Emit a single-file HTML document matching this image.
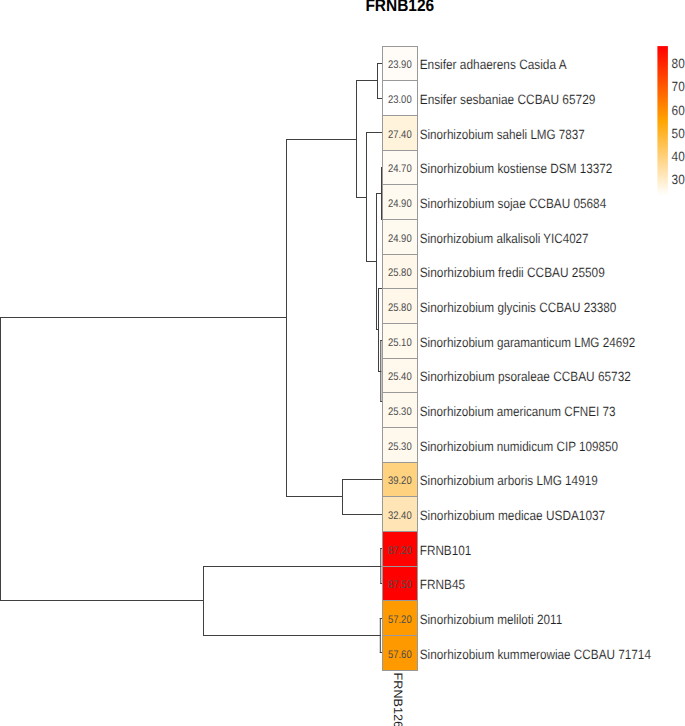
<!DOCTYPE html>
<html><head><meta charset="utf-8"><style>
html,body{margin:0;padding:0;background:#fff;width:685px;height:726px;overflow:hidden}
svg{display:block}
text{font-family:"Liberation Sans",sans-serif;text-rendering:geometricPrecision}
</style></head><body>
<svg width="685" height="726" viewBox="0 0 685 726">
<defs><linearGradient id="g" x1="0" y1="0" x2="0" y2="1"><stop offset="0.00" stop-color="#FF0000"/><stop offset="0.05" stop-color="#FF1000"/><stop offset="0.10" stop-color="#FF2100"/><stop offset="0.15" stop-color="#FF3200"/><stop offset="0.20" stop-color="#FF4200"/><stop offset="0.25" stop-color="#FF5200"/><stop offset="0.30" stop-color="#FF6300"/><stop offset="0.35" stop-color="#FF7300"/><stop offset="0.40" stop-color="#FF8400"/><stop offset="0.45" stop-color="#FF9400"/><stop offset="0.50" stop-color="#FFA500"/><stop offset="0.55" stop-color="#FFAE19"/><stop offset="0.60" stop-color="#FFB733"/><stop offset="0.65" stop-color="#FFC04C"/><stop offset="0.70" stop-color="#FFC966"/><stop offset="0.75" stop-color="#FFD280"/><stop offset="0.80" stop-color="#FFDB99"/><stop offset="0.85" stop-color="#FFE4B2"/><stop offset="0.90" stop-color="#FFEDCC"/><stop offset="0.95" stop-color="#FFF6E6"/><stop offset="1.00" stop-color="#FFFFFF"/></linearGradient></defs>
<text transform="translate(399.8,11.4) scale(0.91,1)" text-anchor="middle" font-weight="bold" font-size="17.0" fill="#000">FRNB126</text>
<g stroke="#404040" stroke-width="1" stroke-linecap="square" fill="none"><line x1="382.50" y1="63.50" x2="377.50" y2="63.50"/><line x1="377.50" y1="63.50" x2="377.50" y2="98.50"/><line x1="377.50" y1="98.50" x2="382.50" y2="98.50"/><line x1="382.50" y1="202.50" x2="383.00" y2="202.50"/><line x1="383.00" y1="202.50" x2="383.00" y2="236.50"/><line x1="383.00" y1="236.50" x2="382.50" y2="236.50"/><line x1="382.50" y1="167.50" x2="381.50" y2="167.50"/><line x1="381.50" y1="167.50" x2="381.50" y2="219.50"/><line x1="381.50" y1="219.50" x2="383.00" y2="219.50"/><line x1="382.50" y1="271.50" x2="383.00" y2="271.50"/><line x1="383.00" y1="271.50" x2="383.00" y2="306.50"/><line x1="383.00" y1="306.50" x2="382.50" y2="306.50"/><line x1="382.50" y1="410.50" x2="383.00" y2="410.50"/><line x1="383.00" y1="410.50" x2="383.00" y2="444.50"/><line x1="383.00" y1="444.50" x2="382.50" y2="444.50"/><line x1="382.50" y1="375.50" x2="383.00" y2="375.50"/><line x1="383.00" y1="375.50" x2="383.00" y2="427.50"/><line x1="383.00" y1="427.50" x2="383.00" y2="427.50"/><line x1="382.50" y1="340.50" x2="380.80" y2="340.50"/><line x1="380.80" y1="340.50" x2="380.80" y2="401.50"/><line x1="380.80" y1="401.50" x2="383.00" y2="401.50"/><line x1="383.00" y1="288.50" x2="378.50" y2="288.50"/><line x1="378.50" y1="288.50" x2="378.50" y2="371.50"/><line x1="378.50" y1="371.50" x2="380.80" y2="371.50"/><line x1="381.50" y1="193.50" x2="376.50" y2="193.50"/><line x1="376.50" y1="193.50" x2="376.50" y2="329.50"/><line x1="376.50" y1="329.50" x2="378.50" y2="329.50"/><line x1="382.50" y1="132.50" x2="366.50" y2="132.50"/><line x1="366.50" y1="132.50" x2="366.50" y2="261.50"/><line x1="366.50" y1="261.50" x2="376.50" y2="261.50"/><line x1="377.50" y1="80.50" x2="356.50" y2="80.50"/><line x1="356.50" y1="80.50" x2="356.50" y2="197.50"/><line x1="356.50" y1="197.50" x2="366.50" y2="197.50"/><line x1="382.50" y1="479.50" x2="342.50" y2="479.50"/><line x1="342.50" y1="479.50" x2="342.50" y2="514.50"/><line x1="342.50" y1="514.50" x2="382.50" y2="514.50"/><line x1="356.50" y1="139.50" x2="286.50" y2="139.50"/><line x1="286.50" y1="139.50" x2="286.50" y2="496.50"/><line x1="286.50" y1="496.50" x2="342.50" y2="496.50"/><line x1="382.50" y1="548.50" x2="380.80" y2="548.50"/><line x1="380.80" y1="548.50" x2="380.80" y2="583.50"/><line x1="380.80" y1="583.50" x2="382.50" y2="583.50"/><line x1="382.50" y1="618.50" x2="380.30" y2="618.50"/><line x1="380.30" y1="618.50" x2="380.30" y2="652.50"/><line x1="380.30" y1="652.50" x2="382.50" y2="652.50"/><line x1="380.80" y1="566.50" x2="203.50" y2="566.50"/><line x1="203.50" y1="566.50" x2="203.50" y2="635.50"/><line x1="203.50" y1="635.50" x2="380.30" y2="635.50"/><line x1="286.50" y1="317.50" x2="0.50" y2="317.50"/><line x1="0.50" y1="317.50" x2="0.50" y2="600.50"/><line x1="0.50" y1="600.50" x2="203.50" y2="600.50"/></g>
<g><rect x="382.5" y="46.5" width="35.0" height="34.0" fill="#FFFCF8"/><rect x="382.5" y="80.5" width="35.0" height="35.0" fill="#FFFFFF"/><rect x="382.5" y="115.5" width="35.0" height="35.0" fill="#FFF3DC"/><rect x="382.5" y="150.5" width="35.0" height="34.0" fill="#FFFAF2"/><rect x="382.5" y="184.5" width="35.0" height="35.0" fill="#FFFAF0"/><rect x="382.5" y="219.5" width="35.0" height="35.0" fill="#FFFAF0"/><rect x="382.5" y="254.5" width="35.0" height="34.0" fill="#FFF7E9"/><rect x="382.5" y="288.5" width="35.0" height="35.0" fill="#FFF7E9"/><rect x="382.5" y="323.5" width="35.0" height="35.0" fill="#FFF9EE"/><rect x="382.5" y="358.5" width="35.0" height="34.0" fill="#FFF8EC"/><rect x="382.5" y="392.5" width="35.0" height="35.0" fill="#FFF9ED"/><rect x="382.5" y="427.5" width="35.0" height="35.0" fill="#FFF9ED"/><rect x="382.5" y="462.5" width="35.0" height="34.0" fill="#FFD27F"/><rect x="382.5" y="496.5" width="35.0" height="35.0" fill="#FFE5B5"/><rect x="382.5" y="531.5" width="35.0" height="35.0" fill="#FF0200"/><rect x="382.5" y="566.5" width="35.0" height="34.0" fill="#FF0000"/><rect x="382.5" y="600.5" width="35.0" height="35.0" fill="#FF9B00"/><rect x="382.5" y="635.5" width="35.0" height="35.0" fill="#FF9900"/></g>
<g stroke="#999999" stroke-width="1"><line x1="382.0" y1="46.5" x2="418.0" y2="46.5"/><line x1="382.0" y1="80.5" x2="418.0" y2="80.5"/><line x1="382.0" y1="115.5" x2="418.0" y2="115.5"/><line x1="382.0" y1="150.5" x2="418.0" y2="150.5"/><line x1="382.0" y1="184.5" x2="418.0" y2="184.5"/><line x1="382.0" y1="219.5" x2="418.0" y2="219.5"/><line x1="382.0" y1="254.5" x2="418.0" y2="254.5"/><line x1="382.0" y1="288.5" x2="418.0" y2="288.5"/><line x1="382.0" y1="323.5" x2="418.0" y2="323.5"/><line x1="382.0" y1="358.5" x2="418.0" y2="358.5"/><line x1="382.0" y1="392.5" x2="418.0" y2="392.5"/><line x1="382.0" y1="427.5" x2="418.0" y2="427.5"/><line x1="382.0" y1="462.5" x2="418.0" y2="462.5"/><line x1="382.0" y1="496.5" x2="418.0" y2="496.5"/><line x1="382.0" y1="531.5" x2="418.0" y2="531.5"/><line x1="382.0" y1="566.5" x2="418.0" y2="566.5"/><line x1="382.0" y1="600.5" x2="418.0" y2="600.5"/><line x1="382.0" y1="635.5" x2="418.0" y2="635.5"/><line x1="382.0" y1="670.5" x2="418.0" y2="670.5"/><line x1="382.5" y1="46.5" x2="382.5" y2="670.5"/><line x1="417.5" y1="46.5" x2="417.5" y2="670.5"/></g>
<g font-size="11" fill="#4D4D4D" text-anchor="middle"><text transform="translate(399.8,68.10) scale(0.8604,1)">23.90</text><text transform="translate(399.8,102.60) scale(0.8604,1)">23.00</text><text transform="translate(399.8,137.60) scale(0.8604,1)">27.40</text><text transform="translate(399.8,172.10) scale(0.8604,1)">24.70</text><text transform="translate(399.8,206.60) scale(0.8604,1)">24.90</text><text transform="translate(399.8,241.60) scale(0.8604,1)">24.90</text><text transform="translate(399.8,276.10) scale(0.8604,1)">25.80</text><text transform="translate(399.8,310.60) scale(0.8604,1)">25.80</text><text transform="translate(399.8,345.60) scale(0.8604,1)">25.10</text><text transform="translate(399.8,380.10) scale(0.8604,1)">25.40</text><text transform="translate(399.8,414.60) scale(0.8604,1)">25.30</text><text transform="translate(399.8,449.60) scale(0.8604,1)">25.30</text><text transform="translate(399.8,484.10) scale(0.8604,1)">39.20</text><text transform="translate(399.8,518.60) scale(0.8604,1)">32.40</text><text transform="translate(399.8,553.60) scale(0.8604,1)">87.20</text><text transform="translate(399.8,588.10) scale(0.8604,1)">87.50</text><text transform="translate(399.8,622.60) scale(0.8604,1)">57.20</text><text transform="translate(399.8,657.60) scale(0.8604,1)">57.60</text></g>
<g font-size="13.5" fill="#222" stroke="#fff" stroke-width="0.12"><text transform="translate(419.7,69.10) scale(0.8775,1)">Ensifer adhaerens Casida A</text><text transform="translate(419.7,103.60) scale(0.8803,1)">Ensifer sesbaniae CCBAU 65729</text><text transform="translate(419.7,138.60) scale(0.8626,1)">Sinorhizobium saheli LMG 7837</text><text transform="translate(419.7,173.10) scale(0.8704,1)">Sinorhizobium kostiense DSM 13372</text><text transform="translate(419.7,207.60) scale(0.8721,1)">Sinorhizobium sojae CCBAU 05684</text><text transform="translate(419.7,242.60) scale(0.8598,1)">Sinorhizobium alkalisoli YIC4027</text><text transform="translate(419.7,277.10) scale(0.8777,1)">Sinorhizobium fredii CCBAU 25509</text><text transform="translate(419.7,311.60) scale(0.8705,1)">Sinorhizobium glycinis CCBAU 23380</text><text transform="translate(419.7,346.60) scale(0.8649,1)">Sinorhizobium garamanticum LMG 24692</text><text transform="translate(419.7,381.10) scale(0.8763,1)">Sinorhizobium psoraleae CCBAU 65732</text><text transform="translate(419.7,415.60) scale(0.8638,1)">Sinorhizobium americanum CFNEI 73</text><text transform="translate(419.7,450.60) scale(0.864,1)">Sinorhizobium numidicum CIP 109850</text><text transform="translate(419.7,485.10) scale(0.8689,1)">Sinorhizobium arboris LMG 14919</text><text transform="translate(419.7,519.60) scale(0.8763,1)">Sinorhizobium medicae USDA1037</text><text transform="translate(419.7,554.60) scale(0.8711,1)">FRNB101</text><text transform="translate(419.7,589.10) scale(0.8763,1)">FRNB45</text><text transform="translate(419.7,623.60) scale(0.8683,1)">Sinorhizobium meliloti 2011</text><text transform="translate(419.7,658.60) scale(0.8706,1)">Sinorhizobium kummerowiae CCBAU 71714</text></g>
<rect x="657.4" y="46.1" width="10.5" height="149.4" fill="url(#g)"/>
<g font-size="13.5" fill="#222" stroke="#fff" stroke-width="0.12"><text transform="translate(671.6,183.99) scale(0.876,1)">30</text><text transform="translate(671.6,160.82) scale(0.876,1)">40</text><text transform="translate(671.6,137.66) scale(0.876,1)">50</text><text transform="translate(671.6,114.50) scale(0.876,1)">60</text><text transform="translate(671.6,91.33) scale(0.876,1)">70</text><text transform="translate(671.6,68.17) scale(0.876,1)">80</text></g>
<text transform="translate(394.2,672.6) rotate(90) scale(1,0.96)" font-size="12.6" fill="#222">FRNB126</text>
</svg>
</body></html>
